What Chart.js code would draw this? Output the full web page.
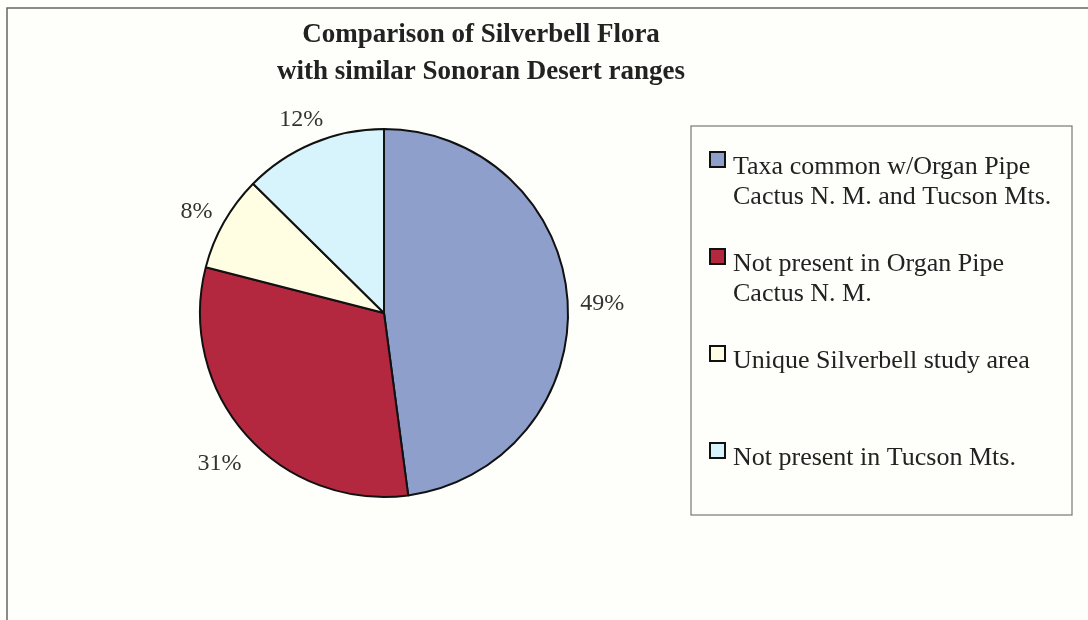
<!DOCTYPE html>
<html>
<head>
<meta charset="utf-8">
<script src="https://cdn.jsdelivr.net/npm/chart.js@4"></script>
<style>
  html, body { margin: 0; padding: 0; background: #fefefa; }
  #wrap { width: 1088px; height: 620px; position: relative; }
</style>
</head>
<body>
<div id="wrap"><canvas id="pieChart"></canvas></div>
<script>
// data (slice sizes from the drawing, labels as printed)
var titleLines = ['Comparison of Silverbell Flora', 'with similar Sonoran Desert ranges'];
var categories = [
  ['Taxa common w/Organ Pipe', 'Cactus N. M. and Tucson Mts.'],
  ['Not present in Organ Pipe', 'Cactus N. M.'],
  ['Unique Silverbell study area'],
  ['Not present in Tucson Mts.']
];
var shares = [47.9, 31.1, 8.4, 12.6];
var pctLabels = ['49%', '31%', '8%', '12%'];
var sliceColors = ['#8e9fcc', '#b3283f', '#fffde2', '#d7f3fb'];

var serif = '"Liberation Serif", "Times New Roman", serif';

var paperPlugin = {
  id: 'paper',
  beforeDraw: function (chart) {
    var c = chart.ctx;
    c.save();
    c.fillStyle = '#fefefa';
    c.fillRect(0, 0, chart.width, chart.height);
    // scanned page frame
    c.strokeStyle = '#666';
    c.lineWidth = 1.5;
    c.beginPath();
    c.moveTo(7, chart.height);
    c.lineTo(7, 8);
    c.lineTo(chart.width, 8);
    c.stroke();
    c.restore();
  },
  afterDraw: function (chart) {
    var c = chart.ctx;
    c.save();
    // title
    c.fillStyle = '#222';
    c.font = 'bold 27px ' + serif;
    c.textAlign = 'center';
    c.textBaseline = 'middle';
    c.fillText(titleLines[0], 481, 35);
    c.fillText(titleLines[1], 481, 72);

    // percentage labels outside the slices
    var meta = chart.getDatasetMeta(0);
    c.font = '24px ' + serif;
    c.fillStyle = '#333';
    meta.data.forEach(function (arc, i) {
      var p = arc.getProps(['x', 'y', 'startAngle', 'endAngle', 'outerRadius'], true);
      var mid = (p.startAngle + p.endAngle) / 2;
      var cx = Math.cos(mid), sy = Math.sin(mid);
      var w = c.measureText(pctLabels[i]).width, h = 22;
      var d = p.outerRadius + 12 + Math.abs(cx) * w / 2 + Math.abs(sy) * h / 2;
      c.fillText(pctLabels[i], p.x + cx * d, p.y + sy * d + 5);
    });

    // legend box
    var bx = 691, by = 126, bw = 381, bh = 389;
    c.fillStyle = '#fefefa';
    c.fillRect(bx, by, bw, bh);
    c.strokeStyle = '#777';
    c.lineWidth = 1.2;
    c.strokeRect(bx, by, bw, bh);
    var itemY = [167, 264, 361, 458];
    c.textAlign = 'left';
    c.font = '26px ' + serif;
    categories.forEach(function (lines, i) {
      var y = itemY[i];
      c.fillStyle = sliceColors[i];
      c.fillRect(710, y - 15, 15, 15);
      c.strokeStyle = '#111';
      c.lineWidth = 2;
      c.strokeRect(710, y - 15, 15, 15);
      c.fillStyle = '#222';
      lines.forEach(function (t, k) {
        c.fillText(t, 733, y + k * 30);
      });
    });
    c.restore();
  }
};

new Chart(document.getElementById('pieChart'), {
  type: 'pie',
  data: {
    labels: categories,
    datasets: [{
      data: shares,
      backgroundColor: sliceColors,
      borderColor: '#111',
      borderWidth: 2
    }]
  },
  options: {
    responsive: true,
    maintainAspectRatio: false,
    animation: false,
    layout: { padding: { left: 199, top: 128, right: 519, bottom: 122 } },
    plugins: {
      legend: { display: false },
      title: { display: false },
      tooltip: { enabled: false }
    }
  },
  plugins: [paperPlugin]
});
</script>
</body>
</html>
